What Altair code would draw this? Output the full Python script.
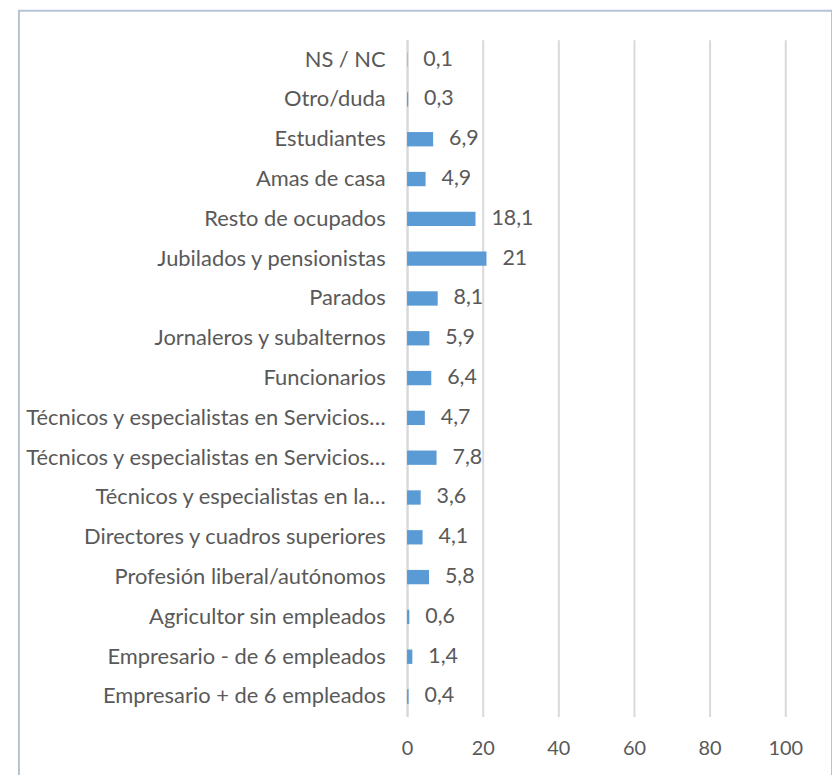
import altair as alt
import pandas as pd

categories = [
    "NS / NC",
    "Otro/duda",
    "Estudiantes",
    "Amas de casa",
    "Resto de ocupados",
    "Jubilados y pensionistas",
    "Parados",
    "Jornaleros y subalternos",
    "Funcionarios",
    "Técnicos y especialistas en Servicios…",
    "Técnicos y especialistas en Servicios… ",
    "Técnicos y especialistas en la…",
    "Directores y cuadros superiores",
    "Profesión liberal/autónomos",
    "Agricultor sin empleados",
    "Empresario - de 6 empleados",
    "Empresario + de 6 empleados",
]
values = [0.1, 0.3, 6.9, 4.9, 18.1, 21, 8.1, 5.9, 6.4, 4.7, 7.8, 3.6, 4.1, 5.8, 0.6, 1.4, 0.4]
x_ticks = [0, 20, 40, 60, 80, 100]

df = pd.DataFrame({
    "cat": categories,
    "val": values,
    "label": [f"{v:g}".replace(".", ",") for v in values],
})

FONT = "Lato"
TXT = "#595959"

y_enc = alt.Y("cat:N", sort=categories, title=None,
              scale=alt.Scale(paddingInner=0.64, paddingOuter=0.32),
              axis=alt.Axis(labelFont=FONT, labelFontSize=22, labelColor=TXT,
                            labelPadding=22, labelLimit=500, ticks=False,
                            domain=True, domainColor="#d9d9d9", domainWidth=2))
x_enc = alt.X("val:Q", title=None,
              scale=alt.Scale(domain=[0, 100], nice=False),
              axis=alt.Axis(values=x_ticks, labelFont=FONT, labelFontSize=20,
                            labelColor=TXT, ticks=False, domain=False,
                            labelFlush=False, labelOverlap=False,
                            grid=True, gridColor="#d9d9d9", gridWidth=2,
                            labelPadding=22))

base = alt.Chart(df)
bars = base.mark_bar(color="#5B9BD5").encode(x=x_enc, y=y_enc)
texts = base.mark_text(align="left", baseline="middle", dx=16, font=FONT,
                       fontSize=21.5, color=TXT).encode(
    x="val:Q", y=alt.Y("cat:N", sort=categories), text="label:N")

border = alt.Chart(pd.DataFrame({"a": [0]})).mark_rect(
    fill=None, stroke="#b7c2d3", strokeWidth=2).encode(
    x=alt.value(-390), x2=alt.value(427), y=alt.value(-29), y2=alt.value(790))

chart = alt.layer(border, bars, texts).properties(
    width=380, height=680,
    autosize=alt.AutoSizeParams(type="none"),
    padding={"left": 401, "top": 30, "right": 47, "bottom": 60},
).configure_view(stroke=None)

chart.save("out.html", embed_options={"renderer": "svg", "actions": False})
